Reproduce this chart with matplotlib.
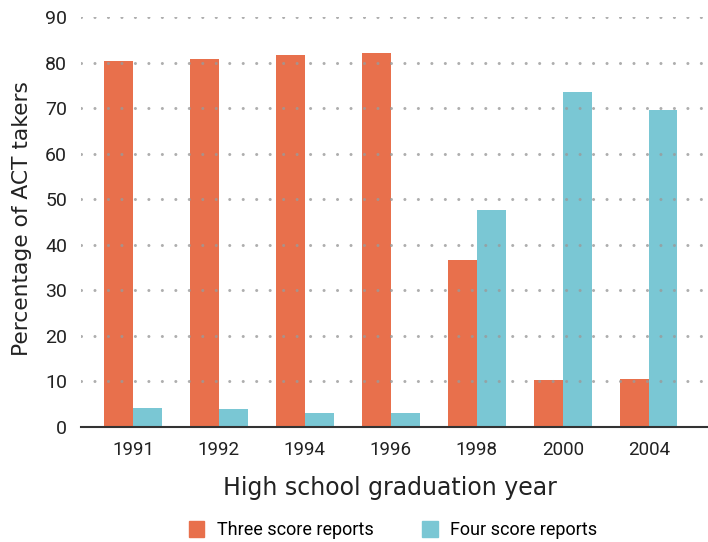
import matplotlib
matplotlib.use("Agg")
from matplotlib import pyplot as plt
from matplotlib.patches import Patch
import numpy as np

years = ["1991", "1992", "1994", "1996", "1998", "2000", "2004"]
three_reports = [80.3, 80.8, 81.7, 82.1, 36.7, 10.3, 10.5]
four_reports = [4.2, 3.9, 3.1, 3.1, 47.6, 73.5, 69.6]
yticks = [0, 10, 20, 30, 40, 50, 60, 70, 80, 90]

orange = "#E8704C"
teal = "#7AC7D4"
narrow = ["Roboto", "DejaVu Sans"]
wide = ["DejaVu Sans"]

fig = plt.figure(figsize=(7.08, 5.42), dpi=100)
ax = fig.add_axes([81 / 708, 115 / 542, 627 / 708, 410 / 542])

x = np.arange(len(years))
w = 0.335
ax.bar(x - w / 2, three_reports, w, color=orange, zorder=2)
ax.bar(x + w / 2, four_reports, w, color=teal, zorder=2)

x0, x1 = -0.605, 6.69
for v in yticks[1:]:
    ax.plot([x0, x1], [v, v], color="#9a9a9a", lw=2.2, alpha=0.8,
            dashes=(0.01, 4.4), dash_capstyle="round", zorder=3)

ax.set_xlim(x0, x1)
ax.set_ylim(0, 90)
ax.set_yticks(yticks)
ax.set_yticklabels([str(v) for v in yticks], family=narrow, fontsize=14, color="#222222")
ax.set_xticks(x)
ax.set_xticklabels(years, family=narrow, fontsize=13.5, color="#222222")
ax.tick_params(axis="y", length=0, pad=10)
ax.tick_params(axis="x", length=0, pad=10)
for s in ["left", "right", "top"]:
    ax.spines[s].set_visible(False)
ax.spines["bottom"].set_color("#333333")
ax.spines["bottom"].set_linewidth(1.5)
ax.spines["bottom"].set_zorder(4)

fig.text(390 / 708, 1 - 488 / 542, "High school graduation year", ha="center", va="center",
         family=wide, fontsize=17, color="#222222")
fig.text(22 / 708, 1 - 219 / 542, "Percentage of ACT takers", ha="center", va="center",
         rotation=90, family=wide, fontsize=15.7, color="#222222")

handles = [Patch(color=orange, label="Three score reports"),
           Patch(color=teal, label="Four score reports")]
fig.legend(handles=handles, loc="center", bbox_to_anchor=(393 / 708, 1 - 530 / 542), ncol=2,
           frameon=False, prop={"family": narrow, "size": 13}, handlelength=0.85,
           handleheight=1.05, handletextpad=0.7, columnspacing=2.7)

plt.savefig("out.png", dpi=100)
